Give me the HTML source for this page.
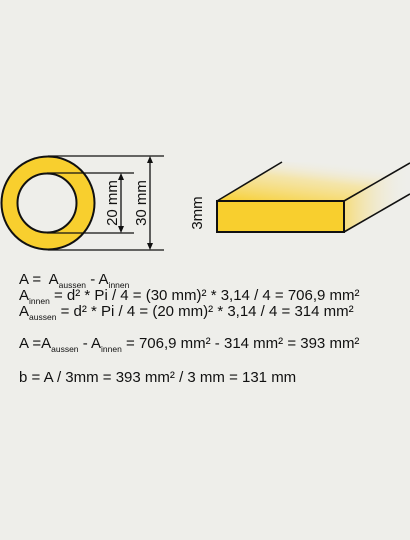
<!DOCTYPE html>
<html><head><meta charset="utf-8"><style>
html,body{margin:0;padding:0;background:#eeeeea}
svg{display:block}
text{font-family:"Liberation Sans",sans-serif;fill:#111}
.f{font-size:15px}
.s{font-size:8.5px}
</style></head><body>
<svg width="410" height="540" viewBox="0 0 410 540">
<defs>
<linearGradient id="tg" x1="0" y1="1" x2="0.6" y2="0">
<stop offset="0" stop-color="#f8cf2e"/>
<stop offset="0.6" stop-color="#f8df80" stop-opacity="0.6"/>
<stop offset="1" stop-color="#eeeeea" stop-opacity="0"/>
</linearGradient>
<linearGradient id="sg" x1="0" y1="0" x2="1" y2="0">
<stop offset="0" stop-color="#f8d860"/>
<stop offset="1" stop-color="#eeeeea" stop-opacity="0"/>
</linearGradient>
</defs>
<rect width="410" height="540" fill="#eeeeea"/>
<g>
<circle cx="48" cy="203" r="46.5" fill="#f8cf2e" stroke="#111" stroke-width="2"/>
<circle cx="47" cy="203" r="29.5" fill="#eeeeea" stroke="#111" stroke-width="2"/>
<g stroke="#111" stroke-width="1.3">
<line x1="48" y1="156" x2="164" y2="156"/>
<line x1="48" y1="250" x2="164" y2="250"/>
<line x1="47" y1="173" x2="134" y2="173"/>
<line x1="47" y1="233" x2="134" y2="233"/>
<line x1="150" y1="158" x2="150" y2="248"/>
<line x1="121" y1="175" x2="121" y2="231"/>
</g>
<g fill="#111">
<path d="M150 156 l-3 7 h6z"/><path d="M150 250 l-3 -7 h6z"/>
<path d="M121 173 l-3 7 h6z"/><path d="M121 233 l-3 -7 h6z"/>
</g>
<text class="f" transform="translate(117,203) rotate(-90)" text-anchor="middle">20 mm</text>
<text class="f" transform="translate(146,203) rotate(-90)" text-anchor="middle">30 mm</text>
</g>
<g>
<polygon points="217,201 282,162 410,163 344,201" fill="url(#tg)"/>
<polygon points="344,201 410,163 410,194 344,232" fill="url(#sg)" opacity="0.8"/>
<rect x="217" y="201" width="127" height="31" fill="#f8cf2e" stroke="#111" stroke-width="2"/>
<g stroke="#111" stroke-width="1.6">
<line x1="217" y1="201" x2="282" y2="162"/>
<line x1="344" y1="201" x2="410" y2="163"/>
<line x1="344" y1="232" x2="410" y2="194"/>
</g>
<text class="f" transform="translate(202,213) rotate(-90)" text-anchor="middle">3mm</text>
</g>
<g>
<text class="f" x="19" y="284">A =&#160; A<tspan class="s" dy="4">aussen</tspan><tspan dy="-4"> - A</tspan><tspan class="s" dy="4">innen</tspan></text>
<text class="f" x="19" y="300">A<tspan class="s" dy="4">innen</tspan><tspan dy="-4"> = d² * Pi / 4 = (30 mm)² * 3,14 / 4 = 706,9 mm²</tspan></text>
<text class="f" x="19" y="316">A<tspan class="s" dy="4">aussen</tspan><tspan dy="-4"> = d² * Pi / 4 = (20 mm)² * 3,14 / 4 = 314 mm²</tspan></text>
<text class="f" x="19" y="348">A =A<tspan class="s" dy="4">aussen</tspan><tspan dy="-4"> - A</tspan><tspan class="s" dy="4">innen</tspan><tspan dy="-4"> = 706,9 mm² - 314 mm² = 393 mm²</tspan></text>
<text class="f" x="19" y="382">b = A / 3mm = 393 mm² / 3 mm = 131 mm</text>
</g>
</svg>
</body></html>
